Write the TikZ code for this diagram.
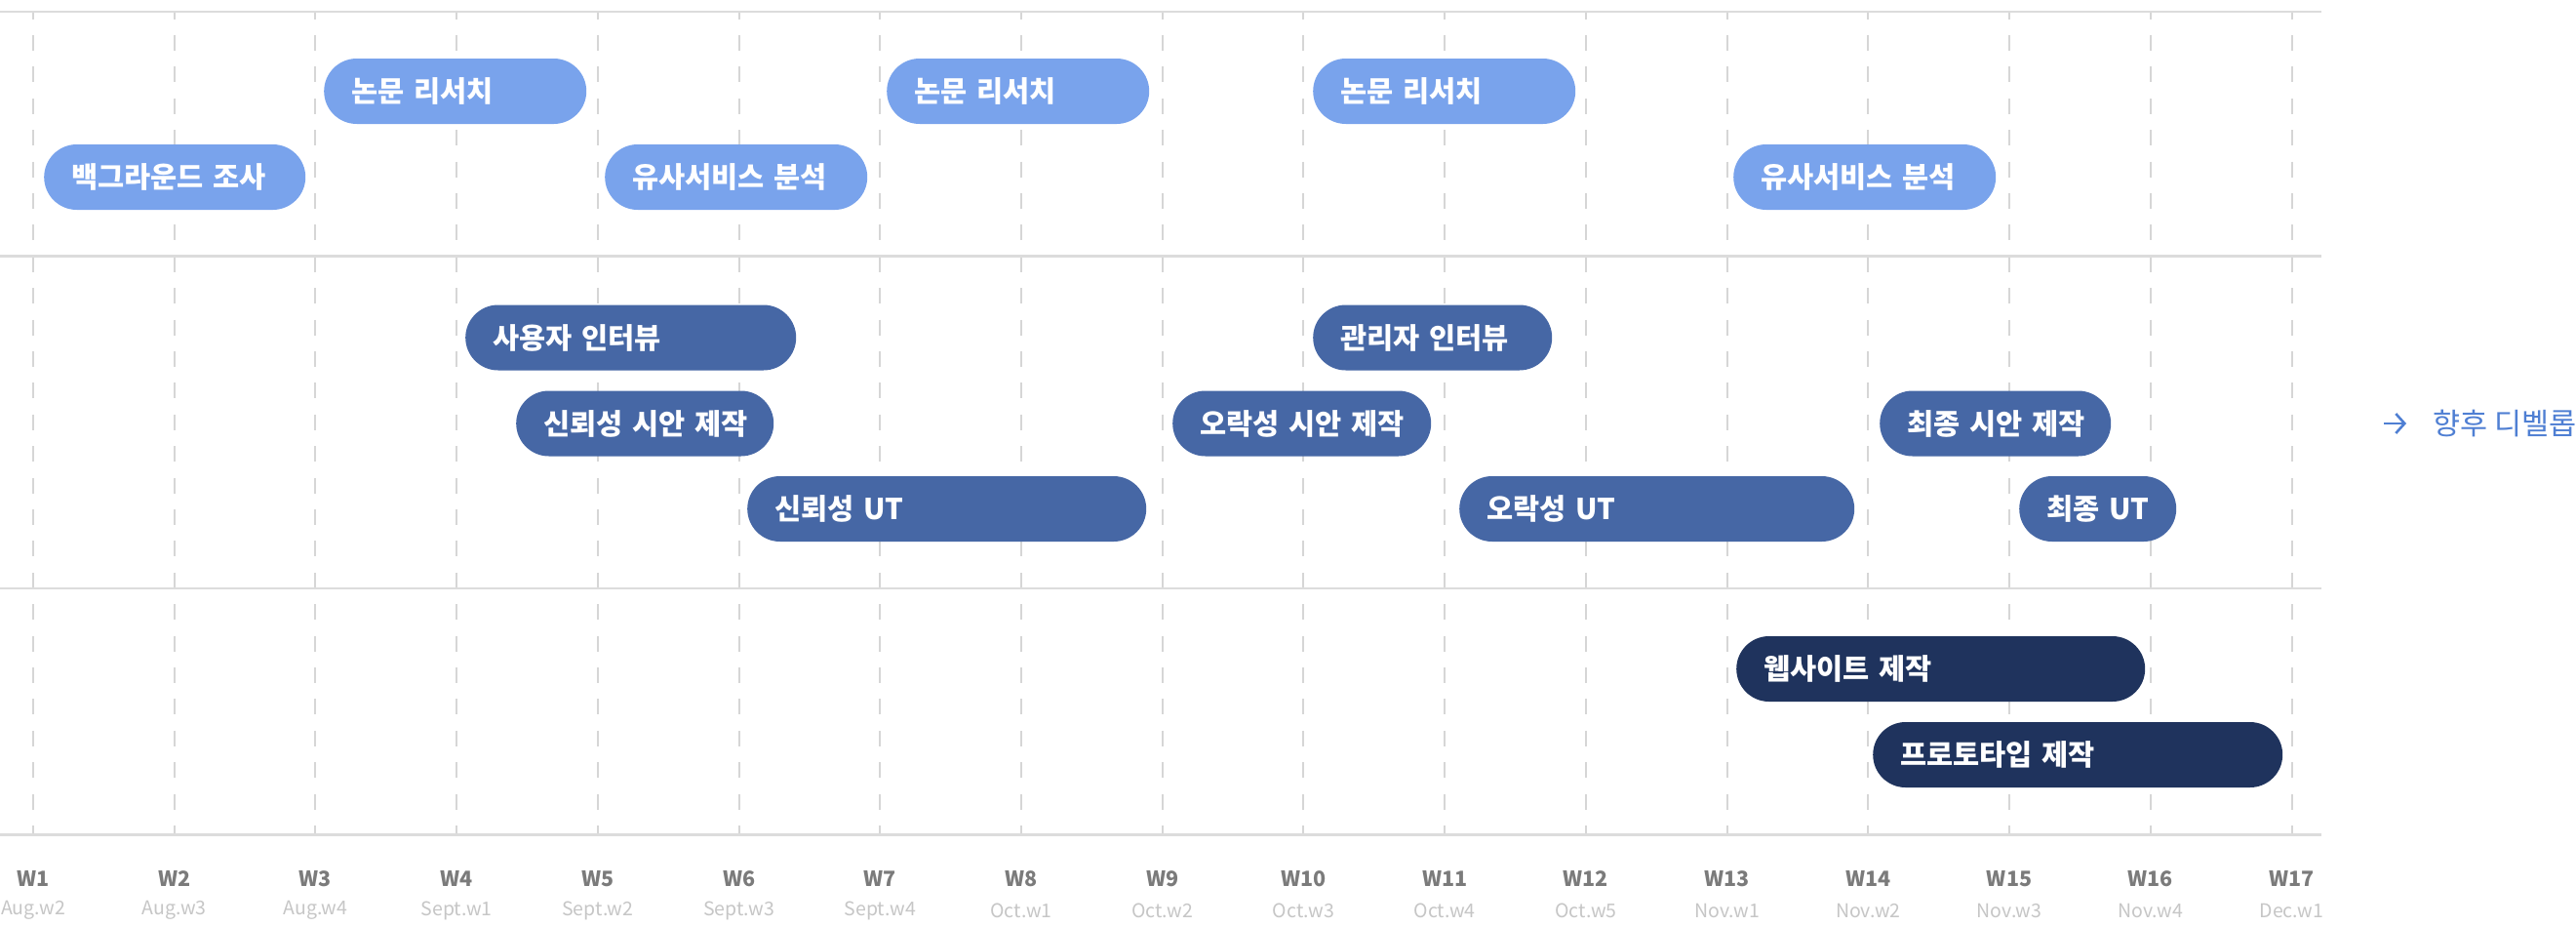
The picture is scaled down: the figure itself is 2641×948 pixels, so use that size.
\documentclass[tikz,border=0pt]{standalone}
\usepackage{fontspec}
\setmainfont{Noto Sans CJK KR}
\usetikzlibrary{arrows.meta}
\definecolor{gridgray}{HTML}{DCDCDC}
\definecolor{dashgray}{HTML}{D6D6D6}
\definecolor{cA}{HTML}{79A3EC}
\definecolor{cB}{HTML}{4667A5}
\definecolor{cC}{HTML}{1F335D}
\definecolor{wlabel}{HTML}{7B7B7B}
\definecolor{sublabel}{HTML}{C6C6C6}
\definecolor{devblue}{HTML}{4F7FD3}
\begin{document}
\begin{tikzpicture}[x=1pt,y=-1pt,
  pill/.style={rounded corners=33.5pt, minimum height=67pt, inner xsep=28pt, inner ysep=0pt,
    anchor=west, align=left, text=white, font=\fontsize{29.5}{34}\selectfont\bfseries},
  barA/.style={pill, fill=cA},
  barB/.style={pill, fill=cB},
  barC/.style={pill, fill=cC},
  hline/.style={draw=gridgray, line width=2.5pt},
  vline/.style={draw=dashgray, line width=2pt, dash pattern=on 16pt off 16.4pt, dash phase=8.4pt},
  wlab/.style={text=wlabel, font=\fontsize{21.5}{25}\selectfont\bfseries, inner sep=0pt},
  dlab/.style={text=sublabel, font=\fontsize{19.5}{23}\selectfont, inner sep=0pt},
  devtext/.style={text=devblue, font=\fontsize{30.5}{35}\selectfont, anchor=west, inner sep=0pt},
  devarrow/.style={draw=devblue, line width=2.6pt, -{Straight Barb[length=9pt,width=20pt]}}
]
\useasboundingbox (0,0) rectangle (2641,948);
\fill[white] (0,0) rectangle (2641,948);

% vertical dashed week lines
\foreach \i in {1,...,17}{
  \pgfmathsetmacro\xx{34+144.72*(\i-1)}
  \draw[vline] (\xx,12) -- (\xx,855.5);
}
% horizontal separators
\foreach \yy in {12,262.5,603,855.5}{
  \draw[hline] (0,\yy) -- (2380,\yy);
}

% week labels
\foreach \lab [count=\i] in {Aug.w2,Aug.w3,Aug.w4,Sept.w1,Sept.w2,Sept.w3,Sept.w4,Oct.w1,Oct.w2,Oct.w3,Oct.w4,Oct.w5,Nov.w1,Nov.w2,Nov.w3,Nov.w4,Dec.w1}{
  \pgfmathsetmacro\xx{34+144.72*(\i-1)}
  \node[wlab] (w\i) at (\xx,900.5) {W\i};
  \node[dlab] (d\i) at (\xx,933) {\lab};
}

% row A : research
\node[barA, text width=212pt] (bg) at (45,181.5) {\mbox{백그라운드 조사}};
\node[barA, text width=213pt] (ra) at (332,93.5) {\mbox{논문 리서치}};
\node[barA, text width=213pt] (sa) at (620,181.5) {\mbox{유사서비스 분석}};
\node[barA, text width=213pt] (rb) at (909,93.5) {\mbox{논문 리서치}};
\node[barA, text width=213pt] (rc) at (1346,93.5) {\mbox{논문 리서치}};
\node[barA, text width=213pt] (sb) at (1777,181.5) {\mbox{유사서비스 분석}};

% row B : interviews, drafts, UT
\node[barB, text width=283pt] (ua) at (477,346) {\mbox{사용자 인터뷰}};
\node[barB, text width=208pt] (pa) at (529,434) {\mbox{신뢰성 시안 제작}};
\node[barB, text width=353pt] (ta) at (766,521.5) {\mbox{신뢰성 UT}};
\node[barB, text width=189pt] (ub) at (1346,346) {\mbox{관리자 인터뷰}};
\node[barB, text width=209pt] (pb) at (1202,434) {\mbox{오락성 시안 제작}};
\node[barB, text width=349pt] (tb) at (1496,521.5) {\mbox{오락성 UT}};
\node[barB, text width=181pt] (pc) at (1927,434) {\mbox{최종 시안 제작}};
\node[barB, text width=105pt] (tc) at (2070,521.5) {\mbox{최종 UT}};

% row C : build
\node[barC, text width=363pt] (web) at (1780,685.5) {\mbox{웹사이트 제작}};
\node[barC, text width=364pt] (proto) at (1920,773.5) {\mbox{프로토타입 제작}};

% future development
\coordinate (arrS) at (2444,434);
\coordinate (arrE) at (2467,434);
\draw[devarrow] (arrS) -- (arrE);
\node[devtext] (dev) at (2494,434) {향후 디벨롭};
\end{tikzpicture}
\end{document}
